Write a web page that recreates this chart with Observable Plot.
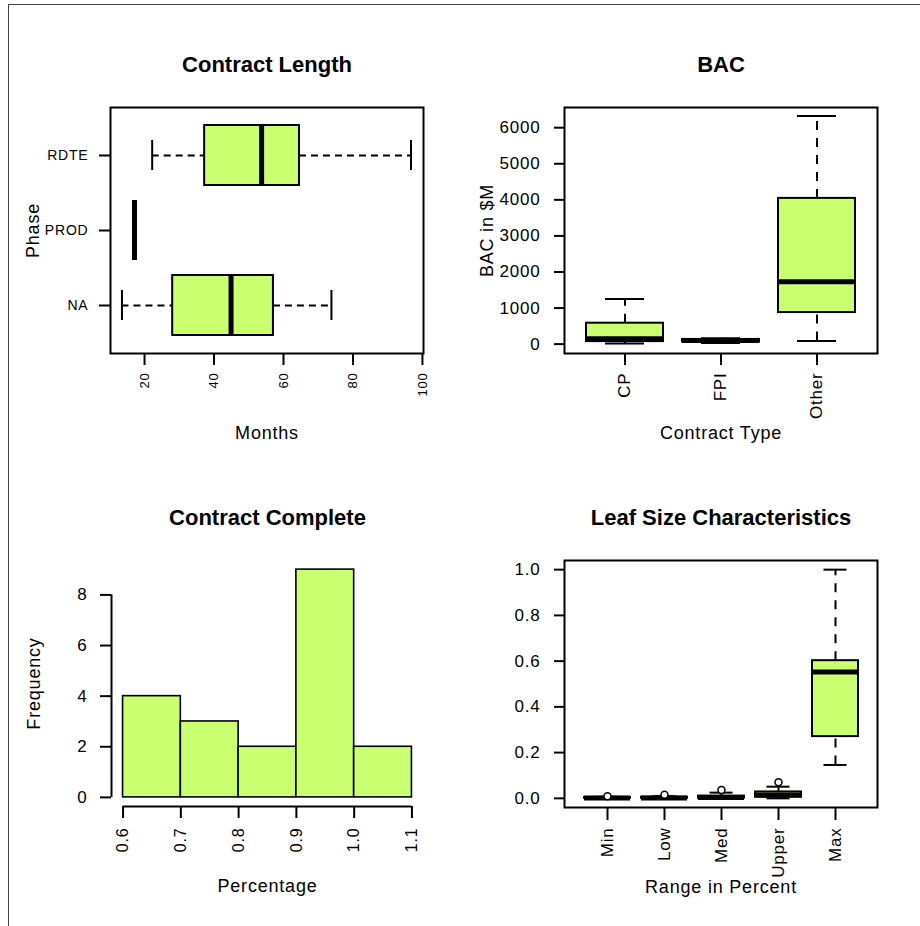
<!DOCTYPE html>
<html><head><meta charset="utf-8">
<script src="https://cdn.jsdelivr.net/npm/d3@7"></script>
<script src="https://cdn.jsdelivr.net/npm/@observablehq/plot@0.6"></script>
<style>
body{margin:0;background:#fff;}
#wrap{position:relative;width:920px;height:926px;overflow:hidden;background:#fff;font-family:"Liberation Sans",Arial,sans-serif;}
#border{position:absolute;left:8px;top:4px;right:-4px;bottom:-4px;border-left:1.5px solid #444;border-top:1.5px solid #444;}
.panel{position:absolute;}
svg text{letter-spacing:0.8px;}
svg g[font-weight="bold"] text{letter-spacing:0;}
</style></head>
<body><div id="wrap"><div id="border"></div></div>
<script>
// ---------- data ----------
// Contract Length (months) by phase
const phases = ["RDTE", "PROD", "NA"];
const lenLow  = [22.2, 17.1, 13.5];
const lenQ1   = [37.3, 17.1, 28.1];
const lenMed  = [53.7, 17.1, 44.9];
const lenQ3   = [64.6, 17.1, 57.1];
const lenHigh = [96.7, 17.1, 73.8];
const lenTicks = [20, 40, 60, 80, 100];

// BAC ($M) by contract type
const contractTypes = ["CP", "FPI", "Other"];
const bacLow  = [15, 30, 90];
const bacQ1   = [70, 60, 875];
const bacMed  = [150, 100, 1726];
const bacQ3   = [580, 130, 4040];
const bacHigh = [1250, 160, 6324];
const bacTicks = [0, 1000, 2000, 3000, 4000, 5000, 6000];

// Contract Complete histogram
const binStart  = [0.6, 0.7, 0.8, 0.9, 1.0];
const binEnd    = [0.7, 0.8, 0.9, 1.0, 1.1];
const frequency = [4, 3, 2, 9, 2];
const freqTicks = [0, 2, 4, 6, 8];
const pctTicks  = [0.6, 0.7, 0.8, 0.9, 1.0, 1.1];

// Leaf Size Characteristics
const leafRanges = ["Min", "Low", "Med", "Upper", "Max"];
const leafLow  = [0, 0, 0, 0, 0.146];
const leafQ1   = [0, 0, 0.001, 0.005, 0.27];
const leafMed  = [0.002, 0.002, 0.004, 0.015, 0.552];
const leafQ3   = [0.004, 0.005, 0.01, 0.028, 0.602];
const leafHigh = [0.007, 0.01, 0.025, 0.051, 1.0];
const leafOutRange = ["Min", "Low", "Med", "Upper"];
const leafOutValue = [0.009, 0.016, 0.037, 0.070];
const leafTicks = [0, 0.2, 0.4, 0.6, 0.8, 1.0];

// ---------- helpers ----------
const FILL = "#CAFF70";
const FONT = '"Liberation Sans", Arial, sans-serif';
const wrap = document.getElementById("wrap");

function rows(cats, lo, q1, md, q3, hi) {
  return cats.map((c, i) => ({cat: c, low: lo[i], q1: q1[i], med: md[i], q3: q3[i], high: hi[i]}));
}
function place(svg, left, top) {
  const d = document.createElement("div");
  d.className = "panel";
  d.style.left = left + "px";
  d.style.top = top + "px";
  d.appendChild(svg);
  wrap.appendChild(d);
}
function title(t) {
  return Plot.text([t], {frameAnchor: "top", dy: -36, textAnchor: "middle", lineAnchor: "bottom", fontSize: 22, fontWeight: "bold"});
}
function xLabel(t) {
  return Plot.text([t], {frameAnchor: "bottom", dy: 85, textAnchor: "middle", lineAnchor: "bottom", fontSize: 18});
}
function yLabel(t) {
  return Plot.text([t], {frameAnchor: "left", dx: -72, rotate: -90, textAnchor: "middle", lineAnchor: "bottom", fontSize: 18});
}
function vBox(data, cap) {
  const dash = "9,8";
  return [
    Plot.ruleX(data, {x: "cat", y1: "low", y2: "q1", strokeWidth: 2, strokeDasharray: dash}),
    Plot.ruleX(data, {x: "cat", y1: "q3", y2: "high", strokeWidth: 2, strokeDasharray: dash}),
    Plot.tickY(data, {x: "cat", y: "low", strokeWidth: 2, insetLeft: cap, insetRight: cap}),
    Plot.tickY(data, {x: "cat", y: "high", strokeWidth: 2, insetLeft: cap, insetRight: cap}),
    Plot.barY(data, {x: "cat", y1: "q1", y2: "q3", fill: FILL, stroke: "black", strokeWidth: 2}),
    Plot.tickY(data, {x: "cat", y: "med", strokeWidth: 5})
  ];
}
function hBox(data, cap) {
  const dash = "7,5";
  return [
    Plot.ruleY(data, {y: "cat", x1: "low", x2: "q1", strokeWidth: 2, strokeDasharray: dash}),
    Plot.ruleY(data, {y: "cat", x1: "q3", x2: "high", strokeWidth: 2, strokeDasharray: dash}),
    Plot.tickX(data, {y: "cat", x: "low", strokeWidth: 2, insetTop: cap, insetBottom: cap}),
    Plot.tickX(data, {y: "cat", x: "high", strokeWidth: 2, insetTop: cap, insetBottom: cap}),
    Plot.barX(data, {y: "cat", x1: "q1", x2: "q3", fill: FILL, stroke: "black", strokeWidth: 2}),
    Plot.tickX(data, {y: "cat", x: "med", strokeWidth: 5})
  ];
}

// ---------- Contract Length ----------
const lenRows = rows(phases, lenLow, lenQ1, lenMed, lenQ3, lenHigh);
place(Plot.plot({
  width: 460, height: 463,
  marginLeft: 110, marginRight: 37, marginTop: 107, marginBottom: 110,
  style: {fontFamily: FONT, background: "transparent"},
  x: {domain: [10.2, 100.3], axis: null},
  y: {type: "band", domain: phases, paddingInner: 0.2, paddingOuter: 0.22, axis: null},
  marks: [
    ...hBox(lenRows, 15),
    Plot.frame({strokeWidth: 2}),
    Plot.axisX(lenTicks, {tickSize: 12, tickPadding: 7, tickRotate: -90, fontSize: 13, strokeWidth: 2, label: null}),
    Plot.axisY(phases, {tickSize: 11, tickPadding: 11, fontSize: 14, strokeWidth: 2, label: null}),
    title("Contract Length"),
    xLabel("Months"),
    yLabel("Phase")
  ]
}), 0, 0);

// ---------- BAC ----------
const bacRows = rows(contractTypes, bacLow, bacQ1, bacMed, bacQ3, bacHigh);
place(Plot.plot({
  width: 460, height: 463,
  marginLeft: 104, marginRight: 43, marginTop: 107, marginBottom: 110,
  style: {fontFamily: FONT, background: "transparent"},
  x: {type: "band", domain: contractTypes, paddingInner: 0.2, paddingOuter: 0.22, axis: null},
  y: {domain: [-260, 6560], axis: null},
  marks: [
    ...vBox(bacRows, 19),
    Plot.frame({strokeWidth: 2}),
    Plot.axisX(contractTypes, {tickSize: 12, tickPadding: 7, tickRotate: -90, fontSize: 17, strokeWidth: 2, label: null}),
    Plot.axisY(bacTicks, {tickSize: 10, tickPadding: 14, fontSize: 17, strokeWidth: 2, tickFormat: d3.format("d"), label: null}),
    title("BAC"),
    xLabel("Contract Type"),
    yLabel("BAC in $M")
  ]
}), 460, 0);

// ---------- Contract Complete ----------
const histRows = binStart.map((s, i) => ({start: s, end: binEnd[i], count: frequency[i]}));
const histX = [0.58, 1.12];
const histY = [-0.36, 9.36];
place(Plot.plot({
  width: 460, height: 463,
  marginLeft: 111, marginRight: 37, marginTop: 97, marginBottom: 120,
  style: {fontFamily: FONT, background: "transparent"},
  x: {domain: histX, axis: null},
  y: {domain: histY, axis: null},
  marks: [
    Plot.rectY(histRows, {x1: "start", x2: "end", y: "count", fill: FILL, stroke: "black", strokeWidth: 1.6}),
    Plot.ruleX([histX[0]], {y1: freqTicks[0], y2: freqTicks[freqTicks.length - 1], strokeWidth: 2}),
    Plot.ruleY([histY[0]], {x1: pctTicks[0], x2: pctTicks[pctTicks.length - 1], strokeWidth: 2}),
    Plot.axisX(pctTicks, {tickSize: 12, tickPadding: 9, tickRotate: -90, fontSize: 16, strokeWidth: 2, tickFormat: d3.format(".1f"), label: null}),
    Plot.axisY(freqTicks, {tickSize: 11, tickPadding: 13, fontSize: 17, strokeWidth: 2, tickFormat: d3.format("d"), label: null}),
    title("Contract Complete"),
    xLabel("Percentage"),
    yLabel("Frequency")
  ]
}), 0, 463);

// ---------- Leaf Size Characteristics ----------
const leafRows = rows(leafRanges, leafLow, leafQ1, leafMed, leafQ3, leafHigh);
const leafOut = leafOutRange.map((c, i) => ({cat: c, value: leafOutValue[i]}));
place(Plot.plot({
  width: 460, height: 463,
  marginLeft: 104, marginRight: 43, marginTop: 97, marginBottom: 119,
  style: {fontFamily: FONT, background: "transparent"},
  x: {type: "band", domain: leafRanges, paddingInner: 0.2, paddingOuter: 0.3, axis: null},
  y: {domain: [-0.04, 1.04], axis: null},
  marks: [
    ...vBox(leafRows, 11.5),
    Plot.dot(leafOut, {x: "cat", y: "value", r: 3.5, stroke: "black", strokeWidth: 1.5, fill: "white"}),
    Plot.frame({strokeWidth: 2}),
    Plot.axisX(leafRanges, {tickSize: 13, tickPadding: 7, tickRotate: -90, fontSize: 17, strokeWidth: 2, label: null}),
    Plot.axisY(leafTicks, {tickSize: 10, tickPadding: 14, fontSize: 17, strokeWidth: 2, tickFormat: d3.format(".1f"), label: null}),
    title("Leaf Size Characteristics"),
    xLabel("Range in Percent")
  ]
}), 460, 463);
</script>
</body></html>
